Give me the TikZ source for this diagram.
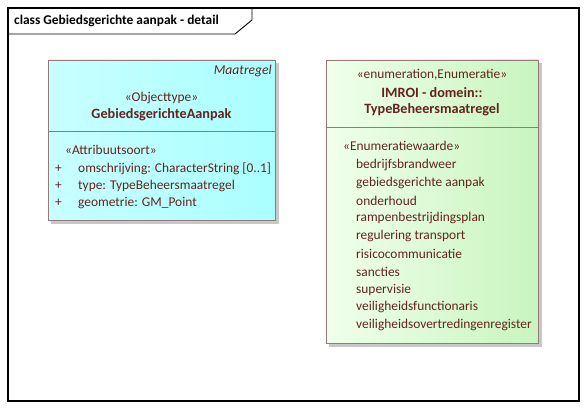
\documentclass[tikz,border=0pt]{standalone}
\usepackage{fontspec}
\setmainfont{Carlito}
\definecolor{txt}{RGB}{100,35,30}
\definecolor{bord}{RGB}{150,120,120}
\definecolor{shad}{RGB}{200,200,200}
\definecolor{cyanL}{RGB}{200,255,255}
\definecolor{cyanR}{RGB}{170,255,255}
\definecolor{grnL}{RGB}{240,255,236}
\definecolor{grnR}{RGB}{200,245,190}
\begin{document}
\begin{tikzpicture}[x=1pt,y=-1pt,
  lbl/.style={inner sep=0pt,text=txt,font=\fontsize{13.4}{16}\selectfont},
  lblb/.style={lbl,font=\fontsize{14.2}{16}\selectfont\bfseries},
  lbli/.style={lbl,font=\fontsize{13.6}{16}\selectfont\itshape}]
\useasboundingbox (0,0) rectangle (587,409);
% frame
\draw[line width=1.2pt] (8,8) rectangle (579,401);
\draw[line width=0.9pt] (8,34) -- (235,34) -- (252,20) -- (252,8);
\node[inner sep=0pt,anchor=west,font=\fontsize{13.4}{16}\selectfont\bfseries] (title) at (14,21) {class Gebiedsgerichte aanpak - detail};
% left box
\fill[shad] (51,63) rectangle (279,224);
\shade[left color=cyanL,right color=cyanR] (48,60) rectangle (275,220);
\draw[bord] (48,60) rectangle (275,220);
\draw[bord] (48,131) -- (275,131);
\node[lbli,anchor=east] (mt) at (272,71) {Maatregel};
\node[lbl] (ot) at (161.5,98) {«Objecttype»};
\node[lblb] (ga) at (161.5,115) {GebiedsgerichteAanpak};
\node[lbl,anchor=west] (as) at (65,150) {«Attribuutsoort»};
\foreach \yy/\t [count=\i] in {169/{omschrijving: CharacterString [0..1]},186/{type: TypeBeheersmaatregel},203/{geometrie: GM\_Point}}{
  \node[lbl,anchor=west] (p\i) at (55,\yy) {+};
  \node[lbl,anchor=west] (a\i) at (78,\yy) {\t};
}
% right box
\fill[shad] (329,63) rectangle (542,347);
\shade[left color=grnL,right color=grnR] (326,60) rectangle (538,343);
\draw[bord] (326,60) rectangle (538,343);
\draw[bord] (326,127) -- (538,127);
\node[lbl] (en) at (432,75) {«enumeration,Enumeratie»};
\node[lblb] (im) at (432,93) {IMROI - domein::};
\node[lblb] (tb) at (432,110) {TypeBeheersmaatregel};
\node[lbl,anchor=west] (ew) at (343,146) {«Enumeratiewaarde»};
\foreach \t [count=\i] in {bedrijfsbrandweer,gebiedsgerichte aanpak,onderhoud,rampenbestrijdingsplan,regulering transport,risicocommunicatie,sancties,supervisie,veiligheidsfunctionaris,veiligheidsovertredingenregister}{
  \node[lbl,anchor=west] (v\i) at (356,{165+(\i-1)*17.8}) {\t};
}
\end{tikzpicture}
\end{document}
